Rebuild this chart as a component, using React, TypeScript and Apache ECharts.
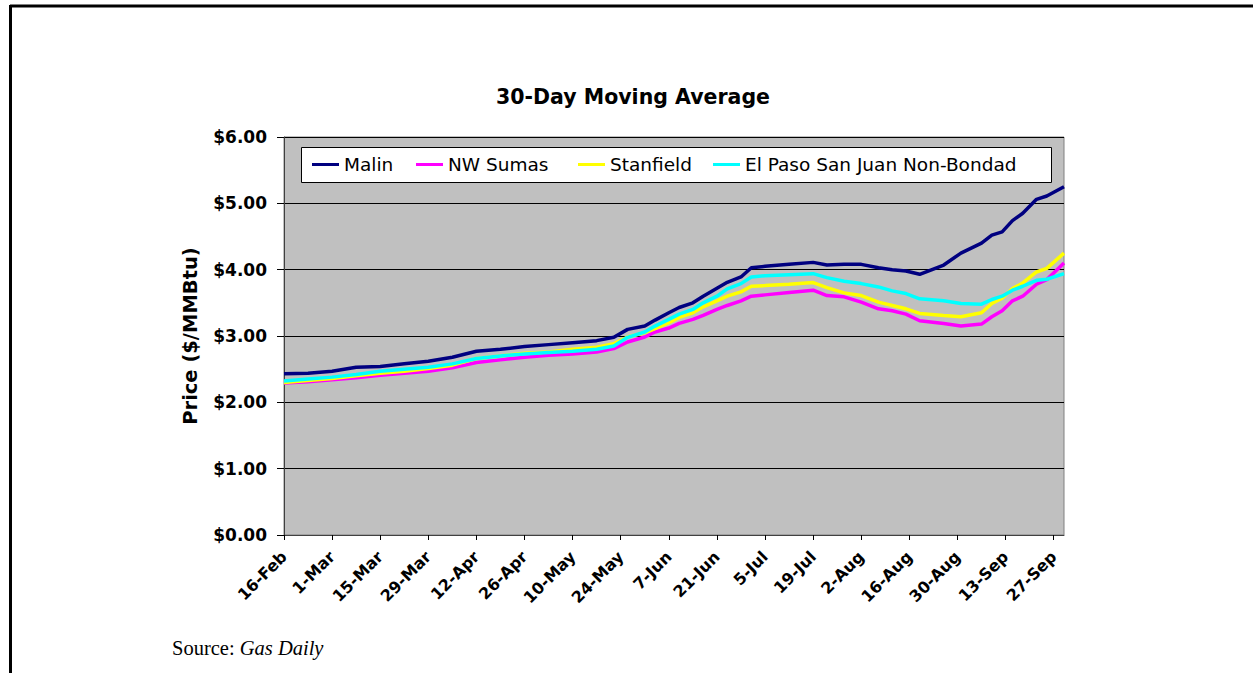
import React, { useEffect, useRef } from 'react';
import * as echarts from 'echarts';

// Tick labels every 14 days, starting 16-Feb
const tickLabels = [
  '16-Feb', '1-Mar', '15-Mar', '29-Mar', '12-Apr', '26-Apr', '10-May', '24-May',
  '7-Jun', '21-Jun', '5-Jul', '19-Jul', '2-Aug', '16-Aug', '30-Aug', '13-Sep', '27-Sep',
];

// Days elapsed since 16-Feb for each sampled value
const days = [
  0, 7, 14, 21, 28, 35, 42, 49, 56, 63, 70, 77, 84, 91, 96, 100, 105, 108, 112, 115,
  119, 122, 126, 129, 133, 136, 140, 147, 154, 158, 163, 168, 173, 177, 181, 185, 192,
  197, 203, 206, 209, 212, 215, 219, 222, 227,
];

// 30-day moving average prices, $/MMBtu
const malin = [
  2.43, 2.44, 2.47, 2.53, 2.54, 2.58, 2.62, 2.68, 2.77, 2.80, 2.84, 2.87, 2.90, 2.93, 2.98, 3.10,
  3.15, 3.24, 3.35, 3.43, 3.50, 3.60, 3.72, 3.81, 3.89, 4.03, 4.05, 4.08, 4.11, 4.07, 4.08, 4.08,
  4.03, 4.00, 3.98, 3.93, 4.07, 4.25, 4.40, 4.52, 4.57, 4.74, 4.85, 5.06, 5.11, 5.25,
];
const nwSumas = [
  2.29, 2.31, 2.34, 2.37, 2.41, 2.44, 2.47, 2.52, 2.60, 2.64, 2.68, 2.71, 2.73, 2.76, 2.81, 2.91,
  2.985, 3.06, 3.12, 3.19, 3.25, 3.31, 3.40, 3.46, 3.53, 3.60, 3.62, 3.655, 3.69, 3.61, 3.59, 3.51,
  3.41, 3.38, 3.33, 3.23, 3.19, 3.15, 3.18, 3.29, 3.38, 3.53, 3.60, 3.78, 3.85, 4.10,
];
const stanfield = [
  2.30, 2.33, 2.36, 2.40, 2.44, 2.47, 2.51, 2.56, 2.66, 2.70, 2.74, 2.76, 2.80, 2.83, 2.885, 2.985,
  3.05, 3.11, 3.20, 3.28, 3.35, 3.44, 3.53, 3.60, 3.665, 3.75, 3.76, 3.78, 3.805, 3.73, 3.65, 3.61,
  3.51, 3.46, 3.41, 3.34, 3.31, 3.29, 3.35, 3.49, 3.57, 3.715, 3.80, 3.965, 4.02, 4.25,
];
const elPaso = [
  2.32, 2.35, 2.38, 2.42, 2.47, 2.50, 2.53, 2.58, 2.66, 2.70, 2.73, 2.75, 2.77, 2.80, 2.85, 2.98,
  3.06, 3.15, 3.25, 3.33, 3.40, 3.50, 3.60, 3.71, 3.79, 3.89, 3.91, 3.925, 3.94, 3.88, 3.825, 3.79,
  3.74, 3.68, 3.64, 3.56, 3.53, 3.49, 3.48, 3.55, 3.60, 3.69, 3.75, 3.84, 3.855, 3.94,
];

const seriesNames = ['Malin', 'NW Sumas', 'Stanfield', 'El Paso San Juan Non-Bondad'];
const seriesValues = [malin, nwSumas, stanfield, elPaso];
const seriesColors = ['#000080', '#FF00FF', '#FFFF00', '#00FFFF'];

const legendLeft = [312, 416, 578, 713];

const SANS = "'DejaVu Sans', Arial, sans-serif";
const SERIF = "'Liberation Serif', 'Times New Roman', serif";

export default function App() {
  const ref = useRef<HTMLDivElement>(null);

  useEffect(() => {
    if (!ref.current) return;
    const chart = echarts.init(ref.current, null, { renderer: 'svg' });
    const tickDays = tickLabels.map((_, i) => i * 14);

    chart.setOption({
      animation: false,
      backgroundColor: '#ffffff',
      grid: {
        left: 284,
        right: 189,
        top: 137,
        bottom: 138,
        show: true,
        backgroundColor: '#C0C0C0',
        borderColor: '#808080',
        borderWidth: 1,
      },
      xAxis: {
        type: 'value',
        min: 0,
        max: 227,
        interval: 14,
        axisLine: { show: true, lineStyle: { color: '#404040', width: 1 } },
        axisTick: { show: true, length: 5, customValues: tickDays, lineStyle: { color: '#000' } },
        splitLine: { show: false },
        axisLabel: {
          customValues: tickDays,
          rotate: 45,
          margin: 19,
          color: '#000',
          fontFamily: SANS,
          fontWeight: 'bold',
          fontSize: 16,
          formatter: (v: number) => (v % 14 === 0 ? tickLabels[v / 14] ?? '' : ''),
        },
      },
      yAxis: {
        type: 'value',
        min: 0,
        max: 6,
        interval: 1,
        name: 'Price ($/MMBtu)',
        nameLocation: 'middle',
        nameRotate: 90,
        nameGap: 84,
        nameTextStyle: { color: '#000', fontFamily: SANS, fontWeight: 'bold', fontSize: 19.5 },
        axisLine: { show: true, lineStyle: { color: '#404040', width: 1 } },
        axisTick: { show: true, length: 7, lineStyle: { color: '#000' } },
        splitLine: { show: true, lineStyle: { color: '#000', width: 1 } },
        axisLabel: {
          margin: 17,
          color: '#000',
          fontFamily: SANS,
          fontWeight: 'bold',
          fontSize: 17,
          formatter: (v: number) => '$' + v.toFixed(2),
        },
      },
      legend: seriesNames.map((name, i) => ({
        data: [name],
        left: legendLeft[i],
        top: 155,
        padding: 0,
        itemGap: 0,
        itemWidth: 27,
        itemHeight: 3,
        icon: 'rect',
        selectedMode: false,
        textStyle: { color: '#000', fontFamily: SANS, fontSize: 18.5 },
      })),
      series: seriesNames.map((name, i) => ({
        name,
        type: 'line',
        data: days.map((d, j) => [d, seriesValues[i][j]]),
        showSymbol: false,
        symbol: 'none',
        itemStyle: { color: seriesColors[i] },
        lineStyle: { color: seriesColors[i], width: 3.5 },
        z: 3 + i,
      })),
      graphic: [
        // page frame
        { type: 'line', shape: { x1: 10, y1: 6, x2: 1253, y2: 6 }, style: { stroke: '#000', lineWidth: 3 } },
        { type: 'line', shape: { x1: 10.5, y1: 5, x2: 10.5, y2: 673 }, style: { stroke: '#000', lineWidth: 3 } },
        // legend box
        {
          type: 'rect',
          z: 1,
          shape: { x: 301.5, y: 147.5, width: 750, height: 35 },
          style: { fill: '#ffffff', stroke: '#000', lineWidth: 1 },
        },
        {
          type: 'text',
          x: 633,
          y: 97,
          style: {
            text: '30-Day Moving Average',
            fill: '#000',
            font: `bold 20.5px ${SANS}`,
            textAlign: 'center',
            textVerticalAlign: 'middle',
          },
        },
        {
          type: 'text',
          x: 172,
          y: 648,
          style: {
            text: '{a|Source: }{b|Gas Daily}',
            textVerticalAlign: 'middle',
            rich: {
              a: { fontFamily: SERIF, fontSize: 20.5, fill: '#000' },
              b: { fontFamily: SERIF, fontSize: 20.5, fontStyle: 'italic', fill: '#000' },
            },
          },
        },
      ],
    });

    return () => chart.dispose();
  }, []);

  return (
    <div
      ref={ref}
      style={{ position: 'absolute', left: 0, top: 0, width: 1253, height: 673, background: '#fff' }}
    />
  );
}
